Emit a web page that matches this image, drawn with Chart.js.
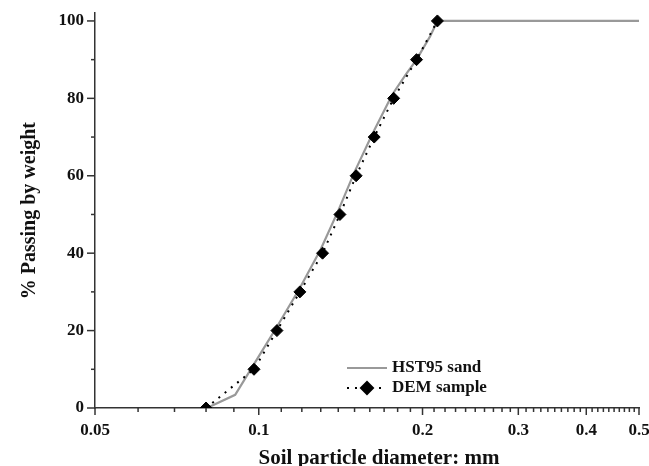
<!DOCTYPE html>
<html>
<head>
<meta charset="utf-8">
<script src="https://cdn.jsdelivr.net/npm/chart.js@4.4.0/dist/chart.umd.min.js"></script>
<style>
  html, body { margin: 0; padding: 0; background: #fff; }
  #wrap { width: 649px; height: 466px; }
</style>
</head>
<body>
<div id="wrap"><canvas id="gradingChart"></canvas></div>
<script>
// DEM sample: diameter (mm) at each % passing level
const demPassing = [0, 10, 20, 30, 40, 50, 60, 70, 80, 90, 100];
const demDiameter = [0.080, 0.098, 0.108, 0.119, 0.131, 0.141, 0.151, 0.163, 0.177, 0.195, 0.213];

// HST95 sand grading curve
const hstDiameter = [0.0803, 0.0905, 0.1017, 0.108, 0.119, 0.130, 0.140, 0.150, 0.162, 0.176, 0.186, 0.195, 0.2065, 0.213, 0.5];
const hstPassing = [0, 3.4, 15, 21, 31, 41, 51, 61, 71, 81, 86, 90, 96, 100, 100];

// axis ticks
const xTickLabels = [0.05, 0.1, 0.2, 0.3, 0.4, 0.5];
const yTickLabels = [0, 20, 40, 60, 80, 100];
const yMinorTicks = [10, 30, 50, 70, 90];
const xTitle = 'Soil particle diameter: mm';

const axisColor = '#333';
const serif = "'Liberation Serif', 'DejaVu Serif', serif";

// minor ticks every 0.01 mm between the labelled ones
const xTicks = [];
for (let k = 5; k <= 50; k++) {
    const v = k / 100;
    xTicks.push({ value: v, major: xTickLabels.some(l => Math.abs(l - v) < 1e-9) });
}

const tickMarks = {
    id: 'tickMarks',
    afterDraw(chart) {
        const ctx = chart.ctx;
        const xs = chart.scales.x, ys = chart.scales.y;
        ctx.save();
        ctx.strokeStyle = axisColor;
        ctx.lineWidth = 1.5;
        xs.ticks.forEach(t => {
            const px = xs.getPixelForValue(t.value);
            const len = t.major ? 7 : 4;
            ctx.beginPath();
            ctx.moveTo(px, xs.top);
            ctx.lineTo(px, xs.top + len);
            ctx.stroke();
        });
        ys.ticks.forEach(t => {
            const py = ys.getPixelForValue(t.value);
            const len = t.major ? 8 : 4;
            ctx.beginPath();
            ctx.moveTo(ys.right, py);
            ctx.lineTo(ys.right - len, py);
            ctx.stroke();
        });
        // x axis title, sits a bit right of centre in the original
        ctx.fillStyle = '#111';
        ctx.font = "bold 21px " + serif;
        ctx.textAlign = 'center';
        ctx.textBaseline = 'alphabetic';
        ctx.fillText(xTitle, (xs.left + xs.right) / 2 + 12, 464);
        ctx.restore();
    }
};

// legend sitting inside the plot, bottom middle
const inlineLegend = {
    id: 'inlineLegend',
    afterDraw(chart) {
        const ctx = chart.ctx;
        const rows = [
            { ds: chart.data.datasets[0], y: 368 },
            { ds: chart.data.datasets[1], y: 388 }
        ];
        ctx.save();
        rows.forEach(r => {
            ctx.beginPath();
            ctx.setLineDash(r.ds.borderDash || []);
            ctx.strokeStyle = r.ds.borderColor;
            ctx.lineWidth = r.ds.borderWidth;
            ctx.moveTo(347, r.y);
            ctx.lineTo(387, r.y);
            ctx.stroke();
            ctx.setLineDash([]);
            if (r.ds.pointRadius > 0) {
                ctx.fillStyle = r.ds.pointBackgroundColor;
                Chart.helpers.drawPoint(ctx, {
                    pointStyle: r.ds.pointStyle,
                    radius: r.ds.pointRadius,
                    rotation: 0,
                    borderWidth: 1
                }, 367, r.y);
                ctx.fill();
            }
            ctx.fillStyle = '#111';
            ctx.font = "bold 17px " + serif;
            ctx.textBaseline = 'middle';
            ctx.textAlign = 'left';
            ctx.fillText(r.ds.label, 392, r.y);
        });
        ctx.restore();
    }
};

const ctx = document.getElementById('gradingChart').getContext('2d');
new Chart(ctx, {
    type: 'line',
    data: {
        datasets: [
            {
                label: 'HST95 sand',
                data: hstDiameter.map((d, i) => ({ x: d, y: hstPassing[i] })),
                borderColor: '#999',
                borderWidth: 2.2,
                pointRadius: 0,
                tension: 0,
                order: 2
            },
            {
                label: 'DEM sample',
                data: demDiameter.map((d, i) => ({ x: d, y: demPassing[i] })),
                borderColor: '#000',
                borderWidth: 2,
                borderDash: [2, 6],
                pointStyle: 'rectRot',
                pointRadius: 6,
                pointBackgroundColor: '#000',
                pointBorderColor: '#000',
                pointBorderWidth: 1,
                tension: 0,
                order: 1
            }
        ]
    },
    options: {
        responsive: true,
        maintainAspectRatio: false,
        animation: false,
        events: [],
        layout: { padding: { top: 12, right: 10, left: 0, bottom: 0 } },
        plugins: {
            legend: { display: false },
            tooltip: { enabled: false }
        },
        scales: {
            x: {
                type: 'logarithmic',
                min: 0.05,
                max: 0.5,
                afterBuildTicks: scale => { scale.ticks = xTicks.map(t => ({ ...t })); },
                afterFit: scale => {
                    scale.height = 58;
                    scale.paddingLeft = 0;
                    scale.paddingRight = 0;
                },
                border: { display: true, color: axisColor, width: 1.5 },
                grid: { display: true, drawOnChartArea: false, drawTicks: true, tickLength: 7, color: 'transparent', tickColor: 'transparent' },
                ticks: {
                    autoSkip: false,
                    maxRotation: 0,
                    padding: 5,
                    color: '#111',
                    font: { family: serif, size: 17, weight: 'bold' },
                    callback: (value, i, ticks) => ticks[i].major ? String(value) : ''
                },
                title: { display: false }
            },
            y: {
                type: 'linear',
                min: 0,
                max: 102,
                afterBuildTicks: scale => {
                    scale.ticks = yTickLabels.map(v => ({ value: v, major: true }))
                        .concat(yMinorTicks.map(v => ({ value: v, major: false })))
                        .sort((a, b) => a.value - b.value);
                },
                afterFit: scale => { scale.width = 95; },
                border: { display: true, color: axisColor, width: 1.5 },
                grid: { display: true, drawOnChartArea: false, drawTicks: true, tickLength: 8, color: 'transparent', tickColor: 'transparent' },
                ticks: {
                    autoSkip: false,
                    padding: 3,
                    color: '#111',
                    font: { family: serif, size: 17, weight: 'bold' },
                    callback: (value, i, ticks) => ticks[i].major ? String(value) : ''
                },
                title: {
                    display: true,
                    text: '% Passing by weight',
                    color: '#111',
                    font: { family: serif, size: 20, weight: 'bold', lineHeight: 1.2 },
                    padding: { top: 18, bottom: 0 }
                }
            }
        }
    },
    plugins: [tickMarks, inlineLegend]
});
</script>
</body>
</html>
